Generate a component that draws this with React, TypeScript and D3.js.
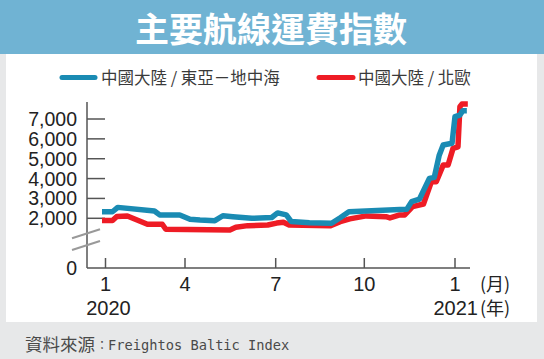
import React from "react";
import * as d3 from "d3";

const title = "主要航線運費指數";
const blueLabel = "中國大陸 / 東亞－地中海";
const redLabel = "中國大陸 / 北歐";
const sourceLabel = "資料來源";
const sourceColon = "：";
const sourceName = "Freightos Baltic Index";

const yTicks = [2000, 3000, 4000, 5000, 6000, 7000];
const monthTickDates = ["2020-01-01", "2020-04-01", "2020-07-01", "2020-10-01", "2021-01-01"];
const monthTickLabels = ["1", "4", "7", "10", "1"];

const blueDates = [
  "2019-12-28", "2020-01-09", "2020-01-15", "2020-02-26", "2020-03-03", "2020-03-26",
  "2020-04-06", "2020-04-16", "2020-05-01", "2020-05-09", "2020-05-19", "2020-06-07",
  "2020-06-27", "2020-07-03", "2020-07-12", "2020-07-17", "2020-08-05", "2020-08-28",
  "2020-09-06", "2020-09-15", "2020-11-06", "2020-11-13", "2020-11-18", "2020-11-26",
  "2020-12-06", "2020-12-11", "2020-12-16", "2020-12-20", "2020-12-29", "2021-01-01",
  "2021-01-06", "2021-01-09", "2021-01-13",
];
const blueValues = [
  2330, 2330, 2550, 2370, 2170, 2170,
  1950, 1910, 1880, 2130, 2080, 2000,
  2040, 2270, 2170, 1840, 1780, 1750,
  2030, 2330, 2440, 2450, 2840, 2970,
  4010, 4060, 5180, 5690, 5780, 7120,
  7200, 7420, 7420,
];

const redDates = [
  "2019-12-28", "2020-01-09", "2020-01-14", "2020-01-26", "2020-02-18", "2020-03-06",
  "2020-03-10", "2020-05-16", "2020-05-22", "2020-06-03", "2020-06-23", "2020-07-02",
  "2020-07-09", "2020-07-15", "2020-08-27", "2020-09-06", "2020-09-16", "2020-10-03",
  "2020-10-23", "2020-10-27", "2020-11-06", "2020-11-11", "2020-11-19", "2020-11-30",
  "2020-12-08", "2020-12-13", "2020-12-20", "2020-12-25", "2020-12-30", "2021-01-04",
  "2021-01-06", "2021-01-08", "2021-01-14",
];
const redValues = [
  1890, 1890, 2090, 2120, 1700, 1700,
  1450, 1410, 1550, 1630, 1660, 1760,
  1800, 1660, 1630, 1830, 1970, 2120,
  2080, 2020, 2170, 2170, 2590, 2720,
  3840, 3840, 4680, 4680, 5520, 5600,
  7620, 7750, 7750,
];

const W = 544;
const H = 359;
const BLUE = "#1a8bb3";
const RED = "#ee1c25";
const AXIS = "#555";
const CJK = "'Noto Sans CJK TC', 'Noto Sans', sans-serif";
const NUM = "'Liberation Sans', Arial, sans-serif";

const parse = d3.timeParse("%Y-%m-%d");

export default function App() {
  const x = d3
    .scaleTime()
    .domain(monthTickDates.map((d) => parse(d) as Date))
    .range([105.5, 185, 275.7, 364.3, 455]);
  const y = d3.scaleLinear().domain([2000, 7000]).range([218.3, 119]);

  const line = d3
    .line<[Date, number]>()
    .x((d) => x(d[0]))
    .y((d) => y(d[1]))
    .curve(d3.curveLinear);

  const blue: [Date, number][] = blueDates.map((d, i) => [parse(d) as Date, blueValues[i]]);
  const red: [Date, number][] = redDates.map((d, i) => [parse(d) as Date, redValues[i]]);

  const axisX = 87;
  const axisBottom = 268;
  const axisTop = 102;
  const axisRight = 470;

  return (
    <svg
      width={W}
      height={H}
      style={{ position: "absolute", left: 0, top: 0, display: "block" }}
    >
      <rect x={0} y={0} width={W} height={H} fill="#e7e8e9" />
      <rect x={6} y={54} width={531} height={268} fill="#ffffff" />
      <rect x={0} y={0} width={W} height={54} fill="#70b3d3" />
      <text
        x={271}
        y={27.5}
        textAnchor="middle"
        dominantBaseline="central"
        fill="#ffffff"
        fontFamily={CJK}
        fontWeight={700}
        fontSize={34}
      >
        {title}
      </text>

      {/* legend */}
      <line x1={62} x2={95} y1={77.5} y2={77.5} stroke={BLUE} strokeWidth={5} strokeLinecap="round" />
      <text x={101} y={77} dominantBaseline="central" fill="#3a3a3a" fontFamily={CJK} fontSize={16.5}>
        {blueLabel}
      </text>
      <line x1={319} x2={353} y1={77.5} y2={77.5} stroke={RED} strokeWidth={5} strokeLinecap="round" />
      <text x={358} y={77} dominantBaseline="central" fill="#3a3a3a" fontFamily={CJK} fontSize={16.5}>
        {redLabel}
      </text>

      {/* y axis */}
      <line x1={axisX} x2={axisX} y1={axisTop} y2={axisBottom} stroke={AXIS} strokeWidth={1.5} />
      {yTicks.map((t) => (
        <g key={t}>
          <line x1={axisX} x2={axisX + 18} y1={y(t)} y2={y(t)} stroke={AXIS} strokeWidth={1.5} />
          <text
            x={77}
            y={y(t)}
            dy="0.36em"
            textAnchor="end"
            fill="#222"
            fontFamily={NUM}
            fontSize={19.5}
          >
            {d3.format(",")(t)}
          </text>
        </g>
      ))}
      <text x={77} y={axisBottom} dy="0.36em" textAnchor="end" fill="#222" fontFamily={NUM} fontSize={19.5}>
        0
      </text>
      {/* axis break */}
      <line x1={72} x2={100} y1={238.3} y2={229.3} stroke="#999" strokeWidth={2} />
      <line x1={72} x2={100} y1={250} y2={241} stroke="#999" strokeWidth={2} />

      {/* x axis */}
      <line x1={axisX} x2={axisRight} y1={axisBottom} y2={axisBottom} stroke={AXIS} strokeWidth={1.5} />
      {monthTickDates.map((d, i) => {
        const px = x(parse(d) as Date);
        return (
          <g key={d}>
            <line x1={px} x2={px} y1={axisBottom} y2={axisBottom - 10} stroke={AXIS} strokeWidth={1.5} />
            <text x={px} y={291} textAnchor="middle" fill="#222" fontFamily={NUM} fontSize={20}>
              {monthTickLabels[i]}
            </text>
          </g>
        );
      })}
      <text x={x(parse(monthTickDates[0]) as Date) + 3} y={315} textAnchor="middle" fill="#222" fontFamily={NUM} fontSize={20}>
        2020
      </text>
      <text x={478} y={315} textAnchor="end" fill="#222" fontFamily={NUM} fontSize={20}>
        2021
      </text>
      <text x={480} y={291} fill="#222" fontFamily={CJK} fontSize={18}>
        (月)
      </text>
      <text x={480} y={315} fill="#222" fontFamily={CJK} fontSize={18}>
        (年)
      </text>

      {/* series */}
      <path d={line(red) || ""} fill="none" stroke={RED} strokeWidth={5.5} strokeLinejoin="round" strokeLinecap="butt" />
      <path d={line(blue) || ""} fill="none" stroke={BLUE} strokeWidth={5.5} strokeLinejoin="round" strokeLinecap="butt" />

      {/* footer */}
      <text x={25} y={351} fill="#4a4a4a" fontFamily={CJK} fontSize={17.5}>
        {sourceLabel}
      </text>
      <text x={102} y={350} textAnchor="middle" fill="#4a4a4a" fontFamily={CJK} fontSize={12}>
        {sourceColon}
      </text>
      <text x={108} y={350} fill="#4a4a4a" fontFamily="'DejaVu Sans Mono', 'Liberation Mono', monospace" fontSize={13.7}>
        {sourceName}
      </text>
    </svg>
  );
}
